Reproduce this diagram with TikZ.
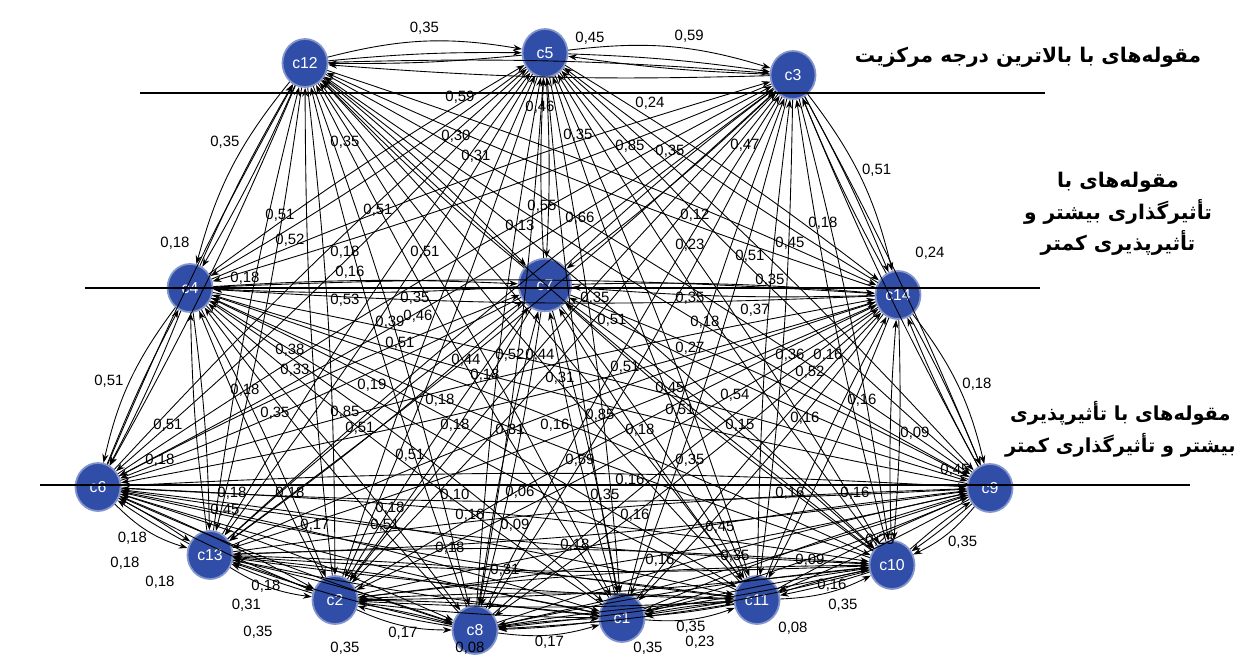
\documentclass[tikz,border=0pt]{standalone}
\usepackage{fontspec}
\setmainfont{Liberation Sans}
\newfontfamily\arabicfont[Script=Arabic]{DejaVu Sans Bold}
\TeXXeTstate=1
\usetikzlibrary{arrows.meta,positioning,shapes.geometric}
\definecolor{catblue}{RGB}{48,78,168}
\tikzset{
  catnode/.style={
    ellipse,
    fill=catblue,
    draw=catblue!60,
    line width=1pt,
    minimum width=0.9cm,
    minimum height=0.96cm,
    inner sep=0pt,
    text=white,
    font=\fontsize{9}{10}\selectfont
  },
  flow/.style={-{Stealth[length=5pt,width=3.5pt]}, line width=0.5pt, black},
  hullflow/.style={flow, bend left=12},
  wlabel/.style={font=\fontsize{8.5}{9}\selectfont, inner sep=0.5pt},
  levelline/.style={line width=1.1pt, black},
  leveltext/.style={font=\arabicfont\fontsize{11.5}{18}\selectfont, align=center, inner sep=0pt}
}

\begin{document}
\begin{tikzpicture}[x=0.02cm, y=-0.02cm]
\useasboundingbox (0,0) rectangle (1236,656);

% categories
\coordinate (p12) at (305,63);
\coordinate (p5) at (545,53);
\coordinate (p3) at (793,75);
\coordinate (p4) at (190,288);
\coordinate (p7) at (545,285);
\coordinate (p14) at (898,295);
\coordinate (p6) at (98,487);
\coordinate (p9) at (990,488);
\coordinate (p13) at (210,555);
\coordinate (p10) at (892,565);
\coordinate (p2) at (335,600);
\coordinate (p8) at (475,630);
\coordinate (p1) at (622,618);
\coordinate (p11) at (757,600);

\foreach \n in {12,5,3,4,14,6,9,13,10,2,8,1,11}
  \node[catnode] (c\n) at (p\n) {c\n};
\node[catnode, minimum width=1.05cm, minimum height=1.05cm] (c7) at (p7) {c7};

% all pairs, both directions
\foreach \a [count=\i] in {12,5,3,4,7,14,6,9,13,10,2,8,1,11} {
  \foreach \b [count=\j] in {12,5,3,4,7,14,6,9,13,10,2,8,1,11} {
    \ifnum\j>\i
      \draw[flow] (c\a) to[bend left=3] (c\b);
      \draw[flow] (c\b) to[bend left=3] (c\a);
    \fi
  }
}

% outer arcs
\draw[hullflow] (c12) to node[wlabel, above=3pt] {0,35} (c5);
\draw[hullflow] (c5) to node[wlabel, above=3pt, pos=0.6] {0,59} (c3);
\draw[hullflow] (c3) to node[wlabel, above right] {0,51} (c14);
\draw[hullflow] (c14) to node[wlabel, right=2pt] {0,18} (c9);
\draw[hullflow] (c9) to node[wlabel, below right] {0,35} (c10);
\draw[flow, bend right=12] (c12) to node[wlabel, left=3pt, pos=0.35] {0,35} (c4);
\draw[flow, bend right=12] (c4) to node[wlabel, left=3pt] {0,51} (c6);
\draw[flow, bend right=14] (c6) to node[wlabel, below left] {0,18} (c13);
\draw[flow, bend right=12] (c13) to node[wlabel, below left=6pt and 4pt] {0,31} (c2);
\draw[flow, bend right=12] (c2) to node[wlabel, below] {0,17} (c8);
\draw[flow, bend right=12] (c8) to node[wlabel, below] {0,17} (c1);
\draw[flow, bend right=12] (c1) to node[wlabel, below] {0,35} (c11);
\draw[flow, bend right=12] (c11) to node[wlabel, below right=3pt and 0pt] {0,35} (c10);

% weights
\foreach \x/\y/\t [count=\k] in {
  590/38/{0,45}, 460/97/{0,59}, 650/103/{0,24}, 540/107/{0,46},
  345/142/{0,35}, 456/136/{0,30}, 476/156/{0,31}, 578/135/{0,35},
  630/146/{0,85}, 670/151/{0,35}, 745/145/{0,47}, 175/243/{0,18},
  280/215/{0,51}, 290/240/{0,52}, 378/210/{0,51}, 345/252/{0,18},
  350/272/{0,16}, 425/252/{0,51}, 542/206/{0,55}, 520/226/{0,13},
  580/218/{0,66}, 695/215/{0,12}, 690/245/{0,23}, 750/256/{0,51},
  790/243/{0,45}, 823/223/{0,18}, 930/253/{0,24}, 245/278/{0,18},
  770/280/{0,35}, 345/300/{0,53}, 415/298/{0,35}, 390/322/{0,39},
  418/316/{0,46}, 400/343/{0,51}, 290/350/{0,38}, 295/370/{0,33},
  245/390/{0,18}, 372/385/{0,19}, 275/413/{0,35}, 345/412/{0,85},
  360/428/{0,51}, 168/425/{0,51}, 160/460/{0,18}, 410/455/{0,51},
  466/360/{0,44}, 440/400/{0,18}, 455/425/{0,18}, 595/298/{0,35},
  612/320/{0,51}, 690/298/{0,35}, 755/310/{0,37}, 705/322/{0,18},
  690/348/{0,27}, 625/367/{0,51}, 670/388/{0,45}, 680/410/{0,51},
  640/430/{0,18}, 600/415/{0,85}, 555/425/{0,16}, 690/460/{0,35},
  735/395/{0,54}, 740/425/{0,15}, 805/418/{0,16}, 810/372/{0,52},
  790/355/{0,36}, 828/355/{0,16}, 862/400/{0,16}, 915/433/{0,09},
  955/470/{0,45}, 580/460/{0,59}, 510/430/{0,31}, 510/355/{0,52},
  540/355/{0,44}, 560/378/{0,31}, 485/375/{0,18}, 125/563/{0,18},
  160/582/{0,18}, 266/586/{0,18}, 258/632/{0,35}, 345/648/{0,35},
  470/648/{0,08}, 648/648/{0,35}, 700/642/{0,23}, 793/628/{0,08},
  832/585/{0,16}, 790/493/{0,16}, 855/493/{0,16}, 720/527/{0,45},
  735/556/{0,35}, 575/545/{0,18}, 635/515/{0,16}, 515/525/{0,09},
  470/515/{0,16}, 450/548/{0,18}, 390/508/{0,18}, 290/493/{0,18},
  315/525/{0,17}, 385/525/{0,51}, 232/493/{0,18}, 225/510/{0,45},
  455/495/{0,10}, 520/492/{0,06}, 605/495/{0,35}, 630/480/{0,16},
  880/540/{0,25}, 810/560/{0,09}, 505/570/{0,31}, 660/560/{0,16}}
  \node[wlabel] (w\k) at (\x,\y) {\t};

% levels
\coordinate (la1) at (140,93);
\coordinate (la2) at (1045,93);
\coordinate (lb1) at (85,288);
\coordinate (lb2) at (1040,288);
\coordinate (lc1) at (40,485);
\coordinate (lc2) at (1190,485);
\draw[levelline] (la1) -- (la2);
\draw[levelline] (lb1) -- (lb2);
\draw[levelline] (lc1) -- (lc2);

\node[leveltext] (top) at (1028,57) {\beginR مقوله‌های با بالاترین درجه مرکزیت\endR};
\node[leveltext] (mid) at (1118,214) {\beginR مقوله‌های با\endR\\\beginR تأثیرگذاری بیشتر و\endR\\\beginR تأثیرپذیری کمتر\endR};
\node[leveltext, anchor=east, font=\arabicfont\fontsize{11}{18}\selectfont] (low) at (1236,429) {\beginR مقوله‌های با تأثیرپذیری\endR\\\beginR بیشتر و تأثیرگذاری کمتر\endR};
\end{tikzpicture}
\end{document}
